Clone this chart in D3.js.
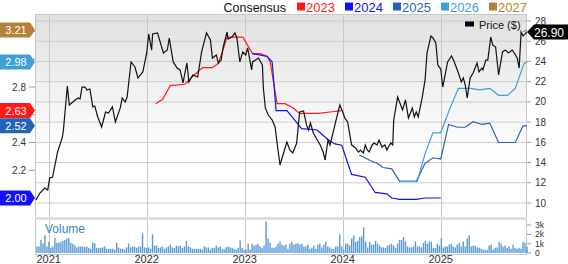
<!DOCTYPE html>
<html>
<head>
<meta charset="utf-8">
<script src="https://cdn.jsdelivr.net/npm/d3@7"></script>
<style>
  body { margin: 0; background: #fff; }
  svg { display: block; font-family: Arial, "Liberation Sans", sans-serif; }
</style>
</head>
<body>
<script>
// price, [decimal year, $]
const price = [
  [2020.87,10.30],[2020.91,10.99],[2020.96,11.48],[2020.99,11.29],[2021.01,12.47],[2021.04,12.57],[2021.05,13.07],
  [2021.09,15.04],[2021.14,16.53],[2021.15,17.22],[2021.19,21.57],[2021.21,19.69],[2021.27,20.19],[2021.30,20.39],
  [2021.32,20.29],[2021.34,21.47],[2021.37,21.47],[2021.39,21.18],[2021.42,21.28],[2021.45,19.50],[2021.47,19.59],
  [2021.50,18.51],[2021.54,17.52],[2021.58,19.00],[2021.61,18.90],[2021.65,19.50],[2021.68,18.01],[2021.73,19.40],
  [2021.75,20.39],[2021.78,19.99],[2021.80,20.48],[2021.84,23.95],[2021.88,23.45],[2021.91,22.36],[2021.96,22.96],
  [2022.00,24.84],[2022.02,26.72],[2022.05,25.13],[2022.06,26.72],[2022.11,26.82],[2022.17,24.84],[2022.21,25.13],
  [2022.23,26.32],[2022.27,23.95],[2022.31,23.35],[2022.34,23.16],[2022.37,21.87],[2022.41,23.85],[2022.43,21.97],
  [2022.47,22.66],[2022.52,22.46],[2022.56,24.94],[2022.61,26.82],[2022.65,26.12],[2022.67,24.34],[2022.71,24.64],
  [2022.73,23.85],[2022.76,24.14],[2022.78,25.43],[2022.82,26.91],[2022.83,26.22],[2022.87,26.42],[2022.90,26.82],
  [2022.92,26.32],[2022.95,23.95],[2022.98,24.94],[2023.01,24.64],[2023.03,25.33],[2023.07,23.16],[2023.08,23.95],
  [2023.14,24.34],[2023.18,23.65],[2023.19,21.37],[2023.21,19.40],[2023.24,18.70],[2023.28,18.21],[2023.31,17.52],
  [2023.33,15.93],[2023.36,13.76],[2023.39,14.75],[2023.43,16.03],[2023.46,15.24],[2023.49,14.95],[2023.53,15.93],
  [2023.56,19.00],[2023.60,19.10],[2023.63,17.72],[2023.65,17.22],[2023.67,17.91],[2023.70,16.92],[2023.74,16.23],
  [2023.77,15.74],[2023.80,15.04],[2023.82,14.25],[2023.85,16.23],[2023.87,15.74],[2023.90,16.92],[2023.94,18.51],
  [2023.97,19.69],[2024.00,19.00],[2024.02,18.41],[2024.05,18.01],[2024.09,15.74],[2024.13,15.44],[2024.16,15.04],
  [2024.18,15.24],[2024.21,14.95],[2024.23,15.74],[2024.25,15.24],[2024.27,15.04],[2024.30,15.74],[2024.32,15.93],
  [2024.35,15.74],[2024.37,16.23],[2024.40,15.54],[2024.43,15.74],[2024.45,15.24],[2024.46,15.44],[2024.49,15.93],
  [2024.51,15.74],[2024.52,18.21],[2024.56,20.48],[2024.61,19.20],[2024.64,20.19],[2024.67,18.41],[2024.71,19.40],
  [2024.73,18.51],[2024.75,19.00],[2024.77,18.51],[2024.81,20.39],[2024.84,22.17],[2024.86,24.84],[2024.90,26.52],
  [2024.92,26.32],[2024.95,25.83],[2024.97,23.65],[2025.00,23.25],[2025.02,21.47],[2025.04,22.46],[2025.07,23.95],
  [2025.11,24.54],[2025.13,24.14],[2025.15,23.65],[2025.18,22.86],[2025.21,21.97],[2025.23,22.36],[2025.25,21.67],
  [2025.27,20.39],[2025.30,22.36],[2025.33,22.86],[2025.37,23.85],[2025.39,22.96],[2025.42,23.35],[2025.43,23.16],
  [2025.46,24.14],[2025.48,24.14],[2025.51,26.42],[2025.53,25.63],[2025.56,25.43],[2025.59,22.66],[2025.63,24.94],
  [2025.66,25.13],[2025.69,24.84],[2025.73,25.13],[2025.75,24.84],[2025.78,24.34],[2025.80,23.35],[2025.82,26.91],
  [2025.84,26.52],[2025.87,26.82],[2025.88,26.90]
];

// consensus EPS by fiscal year, [decimal year, eps]
const eps2023 = [
  [2022.09,2.68],[2022.16,2.71],[2022.24,2.81],[2022.39,2.82],[2022.46,2.87],[2022.52,2.91],[2022.57,2.94],
  [2022.67,2.94],[2022.73,2.97],[2022.77,3.05],[2022.82,3.16],[2022.98,3.16],[2023.03,3.10],[2023.08,3.04],
  [2023.16,3.04],[2023.23,3.02],[2023.26,2.98],[2023.33,2.68],[2023.41,2.68],[2023.49,2.65],[2023.56,2.61],
  [2023.75,2.61],[2023.87,2.62],[2023.99,2.63]
];
const eps2024 = [
  [2023.08,3.04],[2023.23,3.02],[2023.28,2.98],[2023.32,2.63],[2023.43,2.63],[2023.49,2.58],[2023.58,2.50],
  [2023.74,2.49],[2023.77,2.47],[2023.85,2.42],[2023.92,2.39],[2023.99,2.38],[2024.09,2.17],[2024.23,2.15],
  [2024.33,2.04],[2024.45,2.03],[2024.50,2.00],[2024.58,1.99],[2024.75,1.99],[2024.84,2.00],[2025.00,2.00]
];
const eps2025 = [
  [2024.17,2.31],[2024.28,2.27],[2024.35,2.25],[2024.41,2.22],[2024.50,2.21],[2024.58,2.12],[2024.75,2.12],
  [2024.84,2.25],[2024.92,2.29],[2025.00,2.28],[2025.08,2.53],[2025.17,2.51],[2025.25,2.51],[2025.33,2.55],
  [2025.42,2.53],[2025.50,2.54],[2025.59,2.40],[2025.76,2.40],[2025.84,2.52],[2025.88,2.52]
];
const eps2026 = [
  [2024.58,2.12],[2024.76,2.12],[2024.84,2.32],[2024.92,2.47],[2025.00,2.47],[2025.09,2.64],[2025.18,2.79],
  [2025.30,2.79],[2025.40,2.78],[2025.50,2.79],[2025.59,2.74],[2025.68,2.74],[2025.76,2.79],[2025.85,2.97],
  [2025.88,2.98]
];
const eps2027 = [[2025.84,3.20],[2025.88,3.21]];

const seriesNames = ["2023", "2024", "2025", "2026", "2027"];
const seriesColors = ["#ff1a1a", "#1212f0", "#2463b8", "#3fa0d6", "#b5803a"];

// weekly volume, thousands
const volStart = 2020.88, volEnd = 2025.88;
const volumeK = [
  0.7,0.7,1.4,1.0,1.9,0.7,1.2,0.55,0.7,1.6,1.1,1.1,1.2,1.3,1.4,1.55,1.6,1.1,1.0,0.8,
  0.6,0.7,0.7,0.7,0.65,0.7,0.55,0.45,1.15,1.05,0.55,0.55,0.55,0.6,0.7,0.45,0.45,0.45,0.45,0.35,
  1.1,0.6,0.45,0.45,0.35,0.6,1.0,0.6,0.7,0.7,0.55,0.7,0.7,2.1,0.6,0.55,0.6,0.45,2.0,0.8,
  0.8,0.55,0.6,0.7,0.45,0.6,0.7,0.9,0.6,0.55,0.8,0.7,0.8,0.55,0.7,1.3,0.7,0.6,0.45,0.45,
  0.45,0.45,
  0.45,0.35,0.7,0.6,0.6,0.35,0.55,0.55,0.8,0.6,0.7,0.4,0.4,0.6,0.7,0.6,0.55,0.45,0.35,0.55,
  1.35,0.55,0.35,0.35,1.0,0.35,1.0,0.8,0.9,1.0,0.7,0.55,0.8,3.4,1.55,1.1,0.55,0.55,0.7,1.0,
  1.25,0.9,0.8,0.9,0.45,1.0,1.2,0.9,1.0,1.05,0.9,1.0,0.7,0.7,0.9,0.45,0.55,0.8,0.45,0.9,
  1.0,0.6,0.9,1.2,0.7,0.6,0.45,0.45,0.7,0.7,2.0,0.7,0.35,1.0,1.0,0.8,1.55,1.9,1.2,1.3,
  1.7,1.8,2.75,
  1.2,0.6,1.2,0.9,0.9,1.3,1.0,0.8,0.6,0.6,0.55,0.8,0.9,1.0,0.8,0.55,1.0,1.4,1.4,1.7,
  1.25,0.7,0.6,0.6,0.7,1.25,0.7,0.7,0.6,1.1,1.3,1.0,1.25,1.2,0.55,0.55,1.0,0.8,1.6,0.6,
  0.7,0.7,0.9,1.0,0.7,0.6,0.9,1.1,0.7,1.25,0.7,1.55,1.9,0.7,0.8,0.8,0.6,0.55,0.45,0.35,
  0.35,0.35,0.8,0.9,0.35,0.55,0.6,1.2,1.0,0.7,0.8,0.55,0.7,0.45,0.9,0.55,0.45,0.55,0.45,1.2,
  1.1,0.7
];

const years = [2021, 2022, 2023, 2024, 2025];
const priceTicks = [10, 12, 14, 16, 18, 20, 22, 24, 26, 28];
const epsTicks = [2.0, 2.2, 2.4, 2.6, 2.8, 3.0, 3.2];
const epsTickLabels = [2.2, 2.4, 2.8];
const volTicks = [0, 1, 2, 3];

const W = 568, H = 264;
const L = 35, R = 527, T = 14, MB = 217, VT = 220, VB = 254;

const x = d3.scaleLinear().domain([2020.86, 2025.88]).range([L, R]);
const yP = d3.scaleLinear().domain([10, 28]).range([203, 21]);
const yE = d3.scaleLinear().domain([2.0, 2.8]).range([198, 87]);
const yV = d3.scaleLinear().domain([0, 3]).range([253, 225]);

const svg = d3.select("body").append("svg")
  .attr("width", W).attr("height", H);

const defs = svg.append("defs");
const grad = defs.append("linearGradient").attr("id", "bg")
  .attr("x1", 0).attr("y1", 0).attr("x2", 0).attr("y2", 1);
grad.append("stop").attr("offset", "0%").attr("stop-color", "#e1e1e1");
grad.append("stop").attr("offset", "70%").attr("stop-color", "#ffffff");

svg.append("rect").attr("x", L).attr("y", T).attr("width", R - L).attr("height", MB - T)
  .attr("fill", "url(#bg)");

// horizontal grid (price ticks)
svg.append("g").selectAll("line").data(priceTicks).enter().append("line")
  .attr("x1", L).attr("x2", R)
  .attr("y1", d => yP(d)).attr("y2", d => yP(d))
  .attr("stroke", "#cccccc").attr("stroke-width", 1);

// vertical year grid
svg.append("g").selectAll("line").data(years).enter().append("line")
  .attr("x1", d => Math.round(x(d)) + 0.5).attr("x2", d => Math.round(x(d)) + 0.5)
  .attr("y1", T).attr("y2", VB)
  .attr("stroke", "#c8c8c8").attr("stroke-width", 1);

// frame
svg.append("rect").attr("x", L + 0.5).attr("y", T + 0.5).attr("width", R - L - 1).attr("height", VB - T)
  .attr("fill", "none").attr("stroke", "#c8c8c8");
svg.append("rect").attr("x", L).attr("y", MB).attr("width", R - L).attr("height", VT - MB)
  .attr("fill", "#e0e0e0");

// volume bars
const volStep = (volEnd - volStart) / (volumeK.length - 1);
svg.append("g").selectAll("rect").data(volumeK).enter().append("rect")
  .attr("x", (d, i) => x(volStart + i * volStep) - 0.7)
  .attr("width", 1.4)
  .attr("y", d => yV(d))
  .attr("height", d => yV(0) - yV(d))
  .attr("fill", "#5b9bd5");

svg.append("text").attr("x", 45).attr("y", 233)
  .attr("font-size", 12).attr("fill", "#3a86c8").text("Volume");

// consensus lines
const epsLine = d3.line().x(d => x(d[0])).y(d => yE(d[1]));
const epsSeries = [eps2023, eps2024, eps2025, eps2026, eps2027];
epsSeries.forEach((s, i) => {
  svg.append("path").datum(s)
    .attr("d", epsLine)
    .attr("fill", "none")
    .attr("stroke", seriesColors[i])
    .attr("stroke-width", 1.2);
});

// price
svg.append("path").datum(price)
  .attr("d", d3.line().x(d => x(d[0])).y(d => yP(d[1])))
  .attr("fill", "none").attr("stroke", "#111").attr("stroke-width", 1.2);

// right price axis
const rAxis = svg.append("g");
rAxis.selectAll("line").data(priceTicks).enter().append("line")
  .attr("x1", R).attr("x2", R + 4)
  .attr("y1", d => yP(d)).attr("y2", d => yP(d))
  .attr("stroke", "#999");
rAxis.selectAll("text").data(priceTicks).enter().append("text")
  .attr("x", R + 8).attr("y", d => yP(d) + 3.5)
  .attr("font-size", 10).attr("fill", "#333").text(d => d);

// right volume axis
const vAxis = svg.append("g");
vAxis.selectAll("line").data(volTicks).enter().append("line")
  .attr("x1", R).attr("x2", R + 4)
  .attr("y1", d => yV(d)).attr("y2", d => yV(d))
  .attr("stroke", "#999");
vAxis.selectAll("text").data(volTicks).enter().append("text")
  .attr("x", R + 8).attr("y", d => yV(d) + 3)
  .attr("font-size", 8.5).attr("fill", "#333").text(d => d === 0 ? "0" : d + "k");

// left eps axis
const lAxis = svg.append("g");
lAxis.selectAll("line").data(epsTicks).enter().append("line")
  .attr("x1", L - 6).attr("x2", L)
  .attr("y1", d => yE(d)).attr("y2", d => yE(d))
  .attr("stroke", "#999");
lAxis.selectAll("text").data(epsTickLabels).enter().append("text")
  .attr("x", L - 9).attr("y", d => yE(d) + 3.5)
  .attr("text-anchor", "end")
  .attr("font-size", 10).attr("fill", "#333").text(d => d.toFixed(1));

// year labels
svg.append("g").selectAll("text").data(years).enter().append("text")
  .attr("x", d => x(d)).attr("y", 263)
  .attr("text-anchor", "middle")
  .attr("font-size", 11).attr("fill", "#333").text(d => d);

// left tags with last consensus values
const tagOrder = [2, 0, 1, 3, 4];
tagOrder.forEach(i => {
  const s = epsSeries[i];
  const v = s[s.length - 1][1];
  const cy = yE(v);
  const g = svg.append("g");
  g.append("path")
    .attr("d", `M0,${cy - 7.5}H30L35,${cy}L30,${cy + 7.5}H0Z`)
    .attr("fill", seriesColors[i]);
  g.append("text").attr("x", 16).attr("y", cy + 4)
    .attr("text-anchor", "middle").attr("font-size", 11).attr("fill", "#fff")
    .text(v.toFixed(2));
});

// price tag
const last = price[price.length - 1];
const py = yP(last[1]);
svg.append("path")
  .attr("d", `M${R},${py}L${R + 7},${py - 7.5}H${W}V${py + 7.5}H${R + 7}Z`)
  .attr("fill", "#000");
svg.append("text").attr("x", 549).attr("y", py + 4.5)
  .attr("text-anchor", "middle").attr("font-size", 12).attr("fill", "#fff")
  .text(last[1].toFixed(2));

// price legend
svg.append("rect").attr("x", 465).attr("y", 21.5).attr("width", 9).attr("height", 5).attr("fill", "#000");
svg.append("text").attr("x", 479).attr("y", 28.5).attr("font-size", 11).attr("fill", "#111").text("Price ($)");

// consensus legend
svg.append("text").attr("x", 286).attr("y", 12).attr("text-anchor", "end")
  .attr("font-size", 12.5).attr("fill", "#111").text("Consensus");
seriesNames.forEach((n, i) => {
  const lx = 297 + i * 48;
  svg.append("rect").attr("x", lx).attr("y", 2.5).attr("width", 8).attr("height", 8)
    .attr("fill", seriesColors[i]);
  svg.append("text").attr("x", lx + 9).attr("y", 12)
    .attr("font-size", 13).attr("fill", seriesColors[i]).text(n);
});
</script>
</body>
</html>
